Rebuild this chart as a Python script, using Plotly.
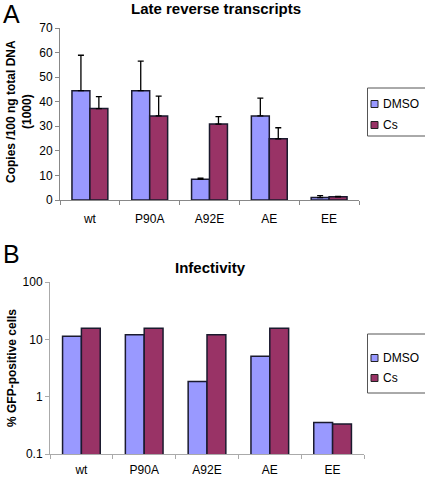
import plotly.graph_objects as go

categories = ["wt", "P90A", "A92E", "AE", "EE"]
series_names = ["DMSO", "Cs"]

# Panel A: late reverse transcripts (copies /100 ng total DNA, x1000)
rt_dmso = [44.5, 44.5, 8.4, 34.2, 1.0]
rt_cs = [37.2, 34.2, 30.9, 24.9, 1.3]
rt_dmso_err = [14.4, 12.0, 0.5, 7.3, 0.8]
rt_cs_err = [4.9, 8.1, 3.0, 4.5, 0.2]

# Panel B: infectivity (% GFP-positive cells)
inf_dmso = [11.3, 12.0, 1.84, 5.08, 0.356]
inf_cs = [15.6, 15.6, 12.0, 15.6, 0.333]

A_ticks = [0, 10, 20, 30, 40, 50, 60, 70]
B_tickvals = [0.1, 1, 10, 100]
B_ticktext = ["0.1", "1", "10", "100"]

W, H = 425, 478
def px(x):
    return x / W
def py(y):
    return (H - y) / H

C_DMSO = "#9999FF"
C_CS = "#993366"
colors = [C_DMSO, C_CS]
FONT = "Liberation Sans, Arial, sans-serif"
line = dict(color="#1a1a2e", width=1.5)

fig = go.Figure()

fig.add_trace(go.Bar(x=categories, y=rt_dmso, name=series_names[0], marker=dict(color=C_DMSO, line=line),
                     error_y=dict(type="data", array=rt_dmso_err, arrayminus=[0]*5, symmetric=False,
                                  color="black", thickness=1.3, width=3),
                     xaxis="x", yaxis="y", showlegend=False))
fig.add_trace(go.Bar(x=categories, y=rt_cs, name=series_names[1], marker=dict(color=C_CS, line=line),
                     error_y=dict(type="data", array=rt_cs_err, arrayminus=[0]*5, symmetric=False,
                                  color="black", thickness=1.3, width=3),
                     xaxis="x", yaxis="y", showlegend=False))
fig.add_trace(go.Bar(x=categories, y=inf_dmso, name=series_names[0], marker=dict(color=C_DMSO, line=line),
                     xaxis="x2", yaxis="y2", showlegend=False))
fig.add_trace(go.Bar(x=categories, y=inf_cs, name=series_names[1], marker=dict(color=C_CS, line=line),
                     xaxis="x2", yaxis="y2", showlegend=False))

axfont = dict(family=FONT, size=12, color="black")
fig.update_layout(
    template="none",
    width=W, height=H, margin=dict(l=0, r=0, t=0, b=0),
    paper_bgcolor="white", plot_bgcolor="white",
    font=dict(family=FONT, color="black"),
    barmode="group", bargap=0.4, bargroupgap=0,
    xaxis=dict(domain=[px(60), px(359)], anchor="y", showline=True, linecolor="#888888", linewidth=1,
               ticks="outside", tickson="boundaries", ticklen=4, tickcolor="#888888",
               ticklabelstandoff=8, tickfont=axfont, showgrid=False, automargin=False),
    yaxis=dict(domain=[py(200), py(28)], anchor="x", range=[0, 70], tickvals=A_ticks,
               showline=True, linecolor="#888888", linewidth=1, ticks="outside", ticklen=4,
               tickcolor="#888888", tickfont=axfont, showgrid=False, zeroline=False, automargin=False),
    xaxis2=dict(domain=[px(50), px(364)], anchor="y2", showline=True, linecolor="#aaaaaa", linewidth=1,
                ticks="outside", tickson="boundaries", ticklen=4, tickcolor="#aaaaaa",
                ticklabelstandoff=5, tickfont=axfont, showgrid=False, automargin=False),
    yaxis2=dict(domain=[py(454), py(282)], anchor="x2", type="log", range=[-1, 2],
                tickvals=B_tickvals, ticktext=B_ticktext,
                showline=True, linecolor="#aaaaaa", linewidth=1, ticks="outside", ticklen=4,
                tickcolor="#aaaaaa", tickfont=axfont, showgrid=False, zeroline=False, automargin=False),
    showlegend=False,
)

ann = [
    dict(text="A", x=px(1), y=py(14), xanchor="left", yanchor="middle", font=dict(size=25)),
    dict(text="B", x=px(1), y=py(254), xanchor="left", yanchor="middle", font=dict(size=25)),
    dict(text="<b>Late reverse transcripts</b>", x=px(216), y=py(8), xanchor="center", yanchor="middle",
         font=dict(size=15)),
    dict(text="<b>Infectivity</b>", x=px(210), y=py(267), xanchor="center", yanchor="middle",
         font=dict(size=15)),
    dict(text="<b>Copies /100 ng total DNA<br>(1000)</b>", x=px(19), y=py(112), xanchor="center",
         yanchor="middle", textangle=-90, font=dict(size=12)),
    dict(text="<b>% GFP-positive cells</b>", x=px(12), y=py(368), xanchor="center",
         yanchor="middle", textangle=-90, font=dict(size=12)),
]

shapes = []
# legend boxes (drawn manually so they can run off the right edge as in the reference)
legend_boxes = [(88, 136, [104, 125]), (334, 393, [358, 378])]
for top, bottom, rows in legend_boxes:
    shapes.append(dict(type="rect", xref="paper", yref="paper", x0=px(367.5), x1=px(440),
                       y0=py(bottom), y1=py(top), line=dict(color="#555555", width=1),
                       fillcolor="white", layer="above"))
    for name, col, yc in zip(series_names, colors, rows):
        shapes.append(dict(type="rect", xref="paper", yref="paper", x0=px(371), x1=px(378),
                           y0=py(yc + 3.5), y1=py(yc - 3.5), line=dict(color="#222222", width=1),
                           fillcolor=col, layer="above"))
        ann.append(dict(text=name, x=px(381), y=py(yc), xanchor="left", yanchor="middle",
                        font=dict(size=12)))

for a in ann:
    a.update(xref="paper", yref="paper", showarrow=False)
    a["font"] = dict(family=FONT, color="black", **a["font"])
fig.update_layout(annotations=ann, shapes=shapes)

fig.write_html("out.html", config={"displayModeBar": False},
               post_script="document.body.style.margin='0px';document.body.style.overflow='hidden';")
